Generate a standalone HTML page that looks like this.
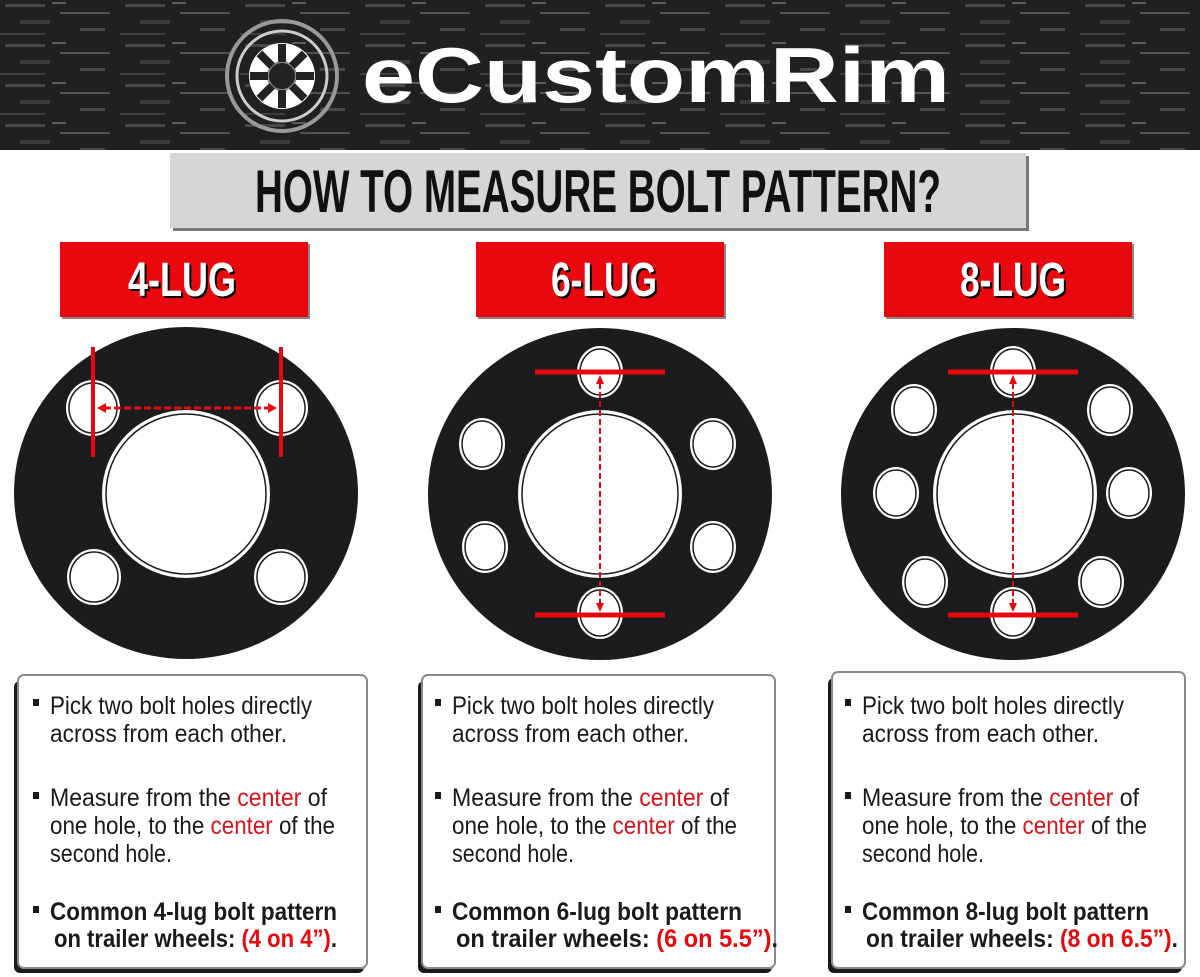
<!DOCTYPE html>
<html><head><meta charset="utf-8"><style>
html,body{margin:0;padding:0;background:#fff;width:1200px;height:977px;overflow:hidden}
svg{display:block}
.n{font-family:"Liberation Sans Narrow","Liberation Sans",sans-serif}
</style></head><body>
<svg width="1200" height="977" viewBox="0 0 1200 977" xmlns="http://www.w3.org/2000/svg">
<defs>
<pattern id="tex" width="120" height="40" patternUnits="userSpaceOnUse">
<rect width="120" height="40" fill="#1b1b1b"/>
<rect x="5" y="4" width="40" height="3" fill="#555"/>
<rect x="60" y="12" width="50" height="2" fill="#666"/>
<rect x="20" y="20" width="30" height="4" fill="#444"/>
<rect x="80" y="28" width="25" height="3" fill="#5a5a5a"/>
<rect x="0" y="33" width="45" height="2" fill="#4a4a4a"/>
<rect x="52" y="2" width="14" height="2" fill="#777"/>
</pattern>
</defs>
<rect x="0" y="0" width="1200" height="150" fill="url(#tex)"/>
<rect x="0" y="0" width="1200" height="150" fill="#2a2a2a" opacity="0.35"/>
<!-- logo -->
<circle cx="282" cy="76" r="55" fill="none" stroke="#999" stroke-width="4"/>
<circle cx="282" cy="76" r="45" fill="none" stroke="#ccc" stroke-width="3"/>
<circle cx="282" cy="76" r="33" fill="#fff"/>
<circle cx="282" cy="76" r="14" fill="#222" stroke="#888" stroke-width="2"/>
<g fill="#222">
<rect x="278" y="44" width="8" height="18"/><rect x="278" y="90" width="8" height="18"/>
<rect x="250" y="72" width="18" height="8"/><rect x="296" y="72" width="18" height="8"/>
<rect x="278" y="44" width="8" height="18" transform="rotate(45 282 76)"/><rect x="278" y="90" width="8" height="18" transform="rotate(45 282 76)"/>
<rect x="278" y="44" width="8" height="18" transform="rotate(-45 282 76)"/><rect x="278" y="90" width="8" height="18" transform="rotate(-45 282 76)"/>
</g>
<text x="362" y="102" font-family="Liberation Sans,sans-serif" font-weight="bold" font-size="78" fill="#fff" textLength="588" lengthAdjust="spacingAndGlyphs">eCustomRim</text>
<!-- title -->
<rect x="173" y="156" width="856" height="75" fill="#777"/>
<rect x="170" y="153" width="856" height="75" fill="#d6d6d6"/>
<text x="255" y="212" class="n" font-weight="bold" font-size="60" fill="#111" textLength="686" lengthAdjust="spacingAndGlyphs">HOW TO MEASURE BOLT PATTERN?</text>
<!-- red labels -->
<g class="n" font-weight="bold" font-size="48" fill="#fff">
<rect x="62" y="244" width="248" height="75" fill="#888"/><rect x="60" y="242" width="248" height="75" fill="#e8080e"/>
<text x="130" y="298" fill="#000" textLength="108" lengthAdjust="spacingAndGlyphs">4-LUG</text><text x="128" y="296" textLength="108" lengthAdjust="spacingAndGlyphs">4-LUG</text>
<rect x="478" y="244" width="248" height="75" fill="#888"/><rect x="476" y="242" width="248" height="75" fill="#e8080e"/>
<text x="553" y="298" fill="#000" textLength="106" lengthAdjust="spacingAndGlyphs">6-LUG</text><text x="551" y="296" textLength="106" lengthAdjust="spacingAndGlyphs">6-LUG</text>
<rect x="886" y="244" width="248" height="75" fill="#888"/><rect x="884" y="242" width="248" height="75" fill="#e8080e"/>
<text x="962" y="298" fill="#000" textLength="106" lengthAdjust="spacingAndGlyphs">8-LUG</text><text x="960" y="296" textLength="106" lengthAdjust="spacingAndGlyphs">8-LUG</text>
</g>
<!-- wheels -->
<ellipse cx="186" cy="493" rx="172" ry="166" fill="#1a1c1e"/>
<circle cx="186" cy="494" r="84" fill="#fff"/>
<circle cx="186" cy="494" r="80" fill="#fff" stroke="#1a1c1e" stroke-width="1.5"/>
<g fill="#fff" stroke="#1a1c1e" stroke-width="1.5">
<ellipse cx="93" cy="408" rx="27" ry="28" stroke="none"/><ellipse cx="93" cy="408" rx="24" ry="25"/>
<ellipse cx="281" cy="408" rx="27" ry="28" stroke="none"/><ellipse cx="281" cy="408" rx="24" ry="25"/>
<ellipse cx="94" cy="577" rx="27" ry="28" stroke="none"/><ellipse cx="94" cy="577" rx="24" ry="25"/>
<ellipse cx="281" cy="577" rx="27" ry="28" stroke="none"/><ellipse cx="281" cy="577" rx="24" ry="25"/>
</g>
<ellipse cx="600" cy="494" rx="172" ry="166" fill="#1a1c1e"/>
<ellipse cx="600" cy="494" rx="82" ry="84" fill="#fff"/>
<ellipse cx="600" cy="494" rx="78" ry="80" fill="#fff" stroke="#1a1c1e" stroke-width="1.5"/>
<g fill="#fff" stroke="#1a1c1e" stroke-width="1.5">
<ellipse cx="600" cy="372" rx="23" ry="26" stroke="none"/><ellipse cx="600" cy="372" rx="20" ry="23"/>
<ellipse cx="600" cy="613" rx="23" ry="26" stroke="none"/><ellipse cx="600" cy="613" rx="20" ry="23"/>
<ellipse cx="482" cy="444" rx="23" ry="26" stroke="none"/><ellipse cx="482" cy="444" rx="20" ry="23"/>
<ellipse cx="713" cy="444" rx="23" ry="26" stroke="none"/><ellipse cx="713" cy="444" rx="20" ry="23"/>
<ellipse cx="485" cy="547" rx="23" ry="26" stroke="none"/><ellipse cx="485" cy="547" rx="20" ry="23"/>
<ellipse cx="713" cy="547" rx="23" ry="26" stroke="none"/><ellipse cx="713" cy="547" rx="20" ry="23"/>
</g>
<ellipse cx="1013" cy="494" rx="172" ry="166" fill="#1a1c1e"/>
<ellipse cx="1015" cy="494" rx="82" ry="84" fill="#fff"/>
<ellipse cx="1015" cy="494" rx="78" ry="80" fill="#fff" stroke="#1a1c1e" stroke-width="1.5"/>
<g fill="#fff" stroke="#1a1c1e" stroke-width="1.5">
<ellipse cx="1013" cy="372" rx="23" ry="26" stroke="none"/><ellipse cx="1013" cy="372" rx="20" ry="23"/>
<ellipse cx="1013" cy="613" rx="23" ry="26" stroke="none"/><ellipse cx="1013" cy="613" rx="20" ry="23"/>
<ellipse cx="914" cy="410" rx="23" ry="26" stroke="none"/><ellipse cx="914" cy="410" rx="20" ry="23"/>
<ellipse cx="1110" cy="410" rx="23" ry="26" stroke="none"/><ellipse cx="1110" cy="410" rx="20" ry="23"/>
<ellipse cx="896" cy="493" rx="23" ry="26" stroke="none"/><ellipse cx="896" cy="493" rx="20" ry="23"/>
<ellipse cx="1129" cy="493" rx="23" ry="26" stroke="none"/><ellipse cx="1129" cy="493" rx="20" ry="23"/>
<ellipse cx="925" cy="582" rx="23" ry="26" stroke="none"/><ellipse cx="925" cy="582" rx="20" ry="23"/>
<ellipse cx="1101" cy="582" rx="23" ry="26" stroke="none"/><ellipse cx="1101" cy="582" rx="20" ry="23"/>
</g>
<!-- red measure lines -->
<g stroke="#e8080e" fill="#e8080e">
<line x1="93" y1="347" x2="93" y2="457" stroke-width="4"/>
<line x1="281" y1="347" x2="281" y2="457" stroke-width="4"/>
<line x1="104" y1="408" x2="270" y2="408" stroke-width="3" stroke-dasharray="7,3"/>
<path d="M97 408 L106 403 L106 413Z" stroke="none"/><path d="M277 408 L268 403 L268 413Z" stroke="none"/>
<line x1="535" y1="372" x2="665" y2="372" stroke-width="5"/>
<line x1="535" y1="615" x2="665" y2="615" stroke-width="5"/>
<line x1="600" y1="383" x2="600" y2="604" stroke-width="2" stroke-dasharray="6,3"/>
<path d="M600 375 L596 384 L604 384Z" stroke="none"/><path d="M600 612 L596 603 L604 603Z" stroke="none"/>
<line x1="948" y1="372" x2="1078" y2="372" stroke-width="5"/>
<line x1="948" y1="615" x2="1078" y2="615" stroke-width="5"/>
<line x1="1013" y1="383" x2="1013" y2="604" stroke-width="2" stroke-dasharray="6,3"/>
<path d="M1013 375 L1009 384 L1017 384Z" stroke="none"/><path d="M1013 612 L1009 603 L1017 603Z" stroke="none"/>
</g>
<!-- text boxes -->
<g>
<rect x="14" y="681" width="350" height="292" rx="6" fill="#1a1a1a"/>
<rect x="18" y="675" width="349" height="293" rx="6" fill="#fff" stroke="#8a8a8a" stroke-width="2"/>
<rect x="418" y="681" width="354" height="292" rx="6" fill="#1a1a1a"/>
<rect x="422" y="675" width="353" height="293" rx="6" fill="#fff" stroke="#8a8a8a" stroke-width="2"/>
<rect x="828" y="678" width="354" height="295" rx="6" fill="#1a1a1a"/>
<rect x="832" y="672" width="353" height="296" rx="6" fill="#fff" stroke="#8a8a8a" stroke-width="2"/>
</g>
<g class="n" font-size="25" fill="#1a1a1a">
<g>
<rect x="33" y="699" width="6" height="7"/><rect x="33" y="792" width="6" height="7"/><rect x="33" y="906" width="6" height="7"/>
<text x="50" y="714" textLength="262" lengthAdjust="spacingAndGlyphs">Pick two bolt holes directly</text>
<text x="50" y="742" textLength="237" lengthAdjust="spacingAndGlyphs">across from each other.</text>
<text x="50" y="806" textLength="277" lengthAdjust="spacingAndGlyphs">Measure from the <tspan fill="#d7141b">center</tspan> of</text>
<text x="50" y="834" textLength="285" lengthAdjust="spacingAndGlyphs">one hole, to the <tspan fill="#d7141b">center</tspan> of the</text>
<text x="50" y="862" textLength="122" lengthAdjust="spacingAndGlyphs">second hole.</text>
<text x="50" y="920" font-weight="bold" textLength="287" lengthAdjust="spacingAndGlyphs">Common 4-lug bolt pattern</text>
<text x="54" y="947" font-weight="bold" textLength="283" lengthAdjust="spacingAndGlyphs">on trailer wheels: <tspan fill="#e8080e">(4 on 4”)</tspan>.</text>
</g>
<g transform="translate(402,0)">
<rect x="33" y="699" width="6" height="7"/><rect x="33" y="792" width="6" height="7"/><rect x="33" y="906" width="6" height="7"/>
<text x="50" y="714" textLength="262" lengthAdjust="spacingAndGlyphs">Pick two bolt holes directly</text>
<text x="50" y="742" textLength="237" lengthAdjust="spacingAndGlyphs">across from each other.</text>
<text x="50" y="806" textLength="277" lengthAdjust="spacingAndGlyphs">Measure from the <tspan fill="#d7141b">center</tspan> of</text>
<text x="50" y="834" textLength="285" lengthAdjust="spacingAndGlyphs">one hole, to the <tspan fill="#d7141b">center</tspan> of the</text>
<text x="50" y="862" textLength="122" lengthAdjust="spacingAndGlyphs">second hole.</text>
<text x="50" y="920" font-weight="bold" textLength="290" lengthAdjust="spacingAndGlyphs">Common 6-lug bolt pattern</text>
<text x="54" y="947" font-weight="bold" textLength="322" lengthAdjust="spacingAndGlyphs">on trailer wheels: <tspan fill="#e8080e">(6 on 5.5”)</tspan>.</text>
</g>
<g transform="translate(812,0)">
<rect x="33" y="699" width="6" height="7"/><rect x="33" y="792" width="6" height="7"/><rect x="33" y="906" width="6" height="7"/>
<text x="50" y="714" textLength="262" lengthAdjust="spacingAndGlyphs">Pick two bolt holes directly</text>
<text x="50" y="742" textLength="237" lengthAdjust="spacingAndGlyphs">across from each other.</text>
<text x="50" y="806" textLength="277" lengthAdjust="spacingAndGlyphs">Measure from the <tspan fill="#d7141b">center</tspan> of</text>
<text x="50" y="834" textLength="285" lengthAdjust="spacingAndGlyphs">one hole, to the <tspan fill="#d7141b">center</tspan> of the</text>
<text x="50" y="862" textLength="122" lengthAdjust="spacingAndGlyphs">second hole.</text>
<text x="50" y="920" font-weight="bold" textLength="287" lengthAdjust="spacingAndGlyphs">Common 8-lug bolt pattern</text>
<text x="54" y="947" font-weight="bold" textLength="312" lengthAdjust="spacingAndGlyphs">on trailer wheels: <tspan fill="#e8080e">(8 on 6.5”)</tspan>.</text>
</g>
</g>
</svg>
</body></html>
